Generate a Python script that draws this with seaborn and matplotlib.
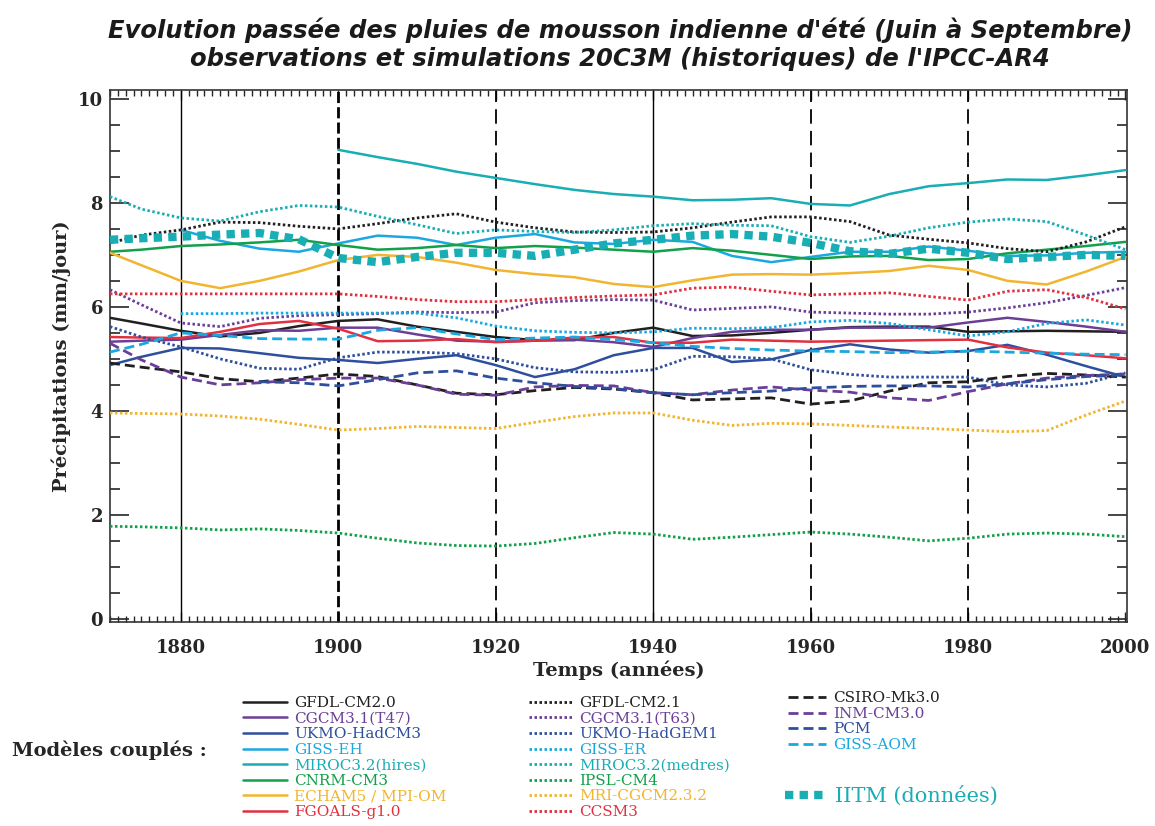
import numpy as np
import matplotlib
matplotlib.use("Agg")
import matplotlib.pyplot as plt
import seaborn as sns
from matplotlib.ticker import MultipleLocator

nan = np.nan

# common year grid for every series (mm/jour)
YEARS = [1871, 1875, 1880, 1885, 1890, 1895, 1900, 1905, 1910, 1915, 1920, 1925, 1930, 1935,
         1940, 1945, 1950, 1955, 1960, 1965, 1970, 1975, 1980, 1985, 1990, 1995, 2000]

# solid lines
gfdl_cm20 = [5.79, 5.68, 5.54, 5.43, 5.50, 5.63, 5.73, 5.76, 5.62, 5.52, 5.42, 5.36, 5.36, 5.50,
             5.60, 5.44, 5.45, 5.50, 5.56, 5.61, 5.62, 5.62, 5.52, 5.53, 5.54, 5.53, 5.52]
cgcm_t47 = [5.33, 5.35, 5.37, 5.46, 5.55, 5.54, 5.60, 5.60, 5.47, 5.35, 5.33, 5.35, 5.37, 5.32,
            5.23, 5.40, 5.52, 5.56, 5.56, 5.60, 5.60, 5.60, 5.70, 5.79, 5.71, 5.62, 5.52]
ukmo_hadcm3 = [4.88, 5.04, 5.21, 5.20, 5.11, 5.02, 4.98, 4.92, 5.00, 5.07, 4.88, 4.65, 4.80, 5.07,
               5.21, 5.21, 4.94, 4.99, 5.17, 5.28, 5.18, 5.12, 5.15, 5.27, 5.08, 4.86, 4.65]
giss_eh = [nan, nan, 7.48, 7.27, 7.12, 7.06, 7.22, 7.37, 7.33, 7.19, 7.33, 7.40, 7.24, 7.21,
           7.29, 7.25, 6.98, 6.86, 6.96, 7.06, 7.06, 7.16, 7.08, 6.98, 6.99, 7.04, 7.06]
miroc_hires = [nan, nan, nan, nan, nan, nan, 9.02, 8.88, 8.75, 8.60, 8.48, 8.36, 8.25, 8.17,
               8.12, 8.05, 8.06, 8.09, 7.98, 7.95, 8.17, 8.32, 8.38, 8.45, 8.44, 8.53, 8.63]
cnrm_cm3 = [7.06, 7.10, 7.17, 7.20, 7.24, 7.29, 7.19, 7.10, 7.13, 7.19, 7.13, 7.17, 7.14, 7.10,
            7.06, 7.13, 7.08, 7.00, 6.92, 6.97, 6.98, 6.90, 6.92, 7.03, 7.10, 7.17, 7.25]
echam5 = [7.04, 6.80, 6.50, 6.36, 6.50, 6.68, 6.90, 7.00, 6.96, 6.85, 6.71, 6.63, 6.57, 6.44,
          6.38, 6.51, 6.62, 6.63, 6.62, 6.65, 6.69, 6.79, 6.71, 6.50, 6.43, 6.68, 6.96]
fgoals = [5.42, 5.41, 5.40, 5.52, 5.67, 5.73, 5.58, 5.34, 5.35, 5.38, 5.32, 5.35, 5.41, 5.42,
          5.31, 5.31, 5.37, 5.35, 5.33, 5.34, 5.35, 5.36, 5.37, 5.22, 5.12, 5.07, 5.01]

# dotted lines
gfdl_cm21 = [7.23, 7.38, 7.48, 7.63, 7.62, 7.55, 7.50, 7.60, 7.71, 7.79, 7.63, 7.52, 7.44, 7.43,
             7.44, 7.52, 7.63, 7.73, 7.73, 7.64, 7.38, 7.30, 7.23, 7.12, 7.06, 7.25, 7.54]
cgcm_t63 = [6.33, 6.04, 5.69, 5.62, 5.78, 5.83, 5.85, 5.87, 5.90, 5.89, 5.90, 6.08, 6.12, 6.14,
            6.13, 5.94, 5.97, 6.00, 5.90, 5.88, 5.86, 5.86, 5.90, 5.98, 6.08, 6.22, 6.37]
ukmo_hadgem1 = [5.62, 5.42, 5.23, 5.00, 4.82, 4.80, 5.02, 5.13, 5.13, 5.10, 5.00, 4.83, 4.75, 4.74,
                4.79, 5.05, 5.04, 5.00, 4.79, 4.70, 4.65, 4.65, 4.65, 4.50, 4.46, 4.53, 4.73]
giss_er = [nan, nan, 5.87, 5.87, 5.88, 5.88, 5.88, 5.88, 5.88, 5.79, 5.63, 5.54, 5.51, 5.50,
           5.52, 5.59, 5.58, 5.60, 5.71, 5.74, 5.68, 5.56, 5.44, 5.52, 5.68, 5.75, 5.65]
miroc_medres = [8.12, 7.88, 7.71, 7.65, 7.83, 7.95, 7.92, 7.74, 7.58, 7.41, 7.48, 7.45, 7.43, 7.48,
                7.56, 7.60, 7.57, 7.56, 7.35, 7.24, 7.36, 7.52, 7.63, 7.69, 7.64, 7.38, 7.10]
ipsl_cm4 = [1.78, 1.77, 1.75, 1.71, 1.73, 1.70, 1.65, 1.55, 1.46, 1.41, 1.40, 1.45, 1.56, 1.66,
            1.63, 1.53, 1.57, 1.62, 1.67, 1.63, 1.57, 1.50, 1.55, 1.63, 1.65, 1.63, 1.58]
mri_cgcm = [3.96, 3.95, 3.94, 3.90, 3.84, 3.74, 3.63, 3.66, 3.70, 3.68, 3.66, 3.78, 3.89, 3.96,
            3.96, 3.82, 3.72, 3.76, 3.75, 3.72, 3.69, 3.66, 3.63, 3.60, 3.62, 3.92, 4.19]
ccsm3 = [6.25, 6.25, 6.25, 6.25, 6.25, 6.25, 6.25, 6.20, 6.14, 6.10, 6.10, 6.14, 6.18, 6.21,
         6.23, 6.36, 6.38, 6.30, 6.23, 6.25, 6.27, 6.20, 6.13, 6.30, 6.33, 6.18, 5.96]

# dashed lines
csiro = [4.92, 4.84, 4.75, 4.62, 4.56, 4.63, 4.71, 4.66, 4.50, 4.34, 4.31, 4.39, 4.45, 4.42,
         4.35, 4.21, 4.23, 4.25, 4.13, 4.19, 4.38, 4.54, 4.56, 4.66, 4.72, 4.69, 4.65]
inm_cm3 = [5.30, 4.98, 4.65, 4.50, 4.54, 4.60, 4.63, 4.63, 4.50, 4.32, 4.30, 4.46, 4.49, 4.48,
           4.35, 4.31, 4.40, 4.46, 4.40, 4.36, 4.25, 4.20, 4.37, 4.52, 4.63, 4.68, 4.71]
pcm = [nan, nan, nan, nan, 4.56, 4.54, 4.48, 4.60, 4.73, 4.77, 4.63, 4.54, 4.47, 4.43,
       4.35, 4.31, 4.35, 4.38, 4.44, 4.47, 4.48, 4.48, 4.46, 4.52, 4.60, 4.66, 4.69]
giss_aom = [5.13, 5.28, 5.50, 5.45, 5.39, 5.38, 5.38, 5.55, 5.60, 5.48, 5.37, 5.40, 5.42, 5.37,
            5.31, 5.24, 5.20, 5.17, 5.15, 5.14, 5.12, 5.13, 5.15, 5.13, 5.11, 5.09, 5.08]

# observations
iitm = [7.29, 7.32, 7.35, 7.39, 7.42, 7.30, 6.94, 6.86, 6.96, 7.04, 7.04, 6.98, 7.10, 7.22,
        7.29, 7.37, 7.40, 7.35, 7.23, 7.07, 7.02, 7.12, 7.04, 6.92, 6.96, 7.00, 6.98]

SOLID_NAMES = ["GFDL-CM2.0", "CGCM3.1(T47)", "UKMO-HadCM3", "GISS-EH",
               "MIROC3.2(hires)", "CNRM-CM3", "ECHAM5 / MPI-OM", "FGOALS-g1.0"]
DOTTED_NAMES = ["GFDL-CM2.1", "CGCM3.1(T63)", "UKMO-HadGEM1", "GISS-ER",
                "MIROC3.2(medres)", "IPSL-CM4", "MRI-CGCM2.3.2", "CCSM3"]
DASHED_NAMES = ["CSIRO-Mk3.0", "INM-CM3.0", "PCM", "GISS-AOM"]
OBS_NAME = "IITM (données)"

BLACK = "#231f20"
PURPLE = "#6b3f98"
DBLUE = "#2d4f9e"
LBLUE = "#1aa8e0"
TEAL = "#19adb4"
GREEN = "#13a04a"
YELLOW = "#f1b52f"
RED = "#e03140"

solid_data = [gfdl_cm20, cgcm_t47, ukmo_hadcm3, giss_eh, miroc_hires, cnrm_cm3, echam5, fgoals]
solid_cols = [BLACK, PURPLE, DBLUE, LBLUE, TEAL, GREEN, YELLOW, RED]
dotted_data = [gfdl_cm21, cgcm_t63, ukmo_hadgem1, giss_er, miroc_medres, ipsl_cm4, mri_cgcm, ccsm3]
dotted_cols = [BLACK, PURPLE, DBLUE, LBLUE, TEAL, GREEN, YELLOW, RED]
dashed_data = [csiro, inm_cm3, pcm, giss_aom]
dashed_cols = [BLACK, PURPLE, DBLUE, LBLUE]

REF_SOLID = [1880, 1940]
REF_DASHED = [1900, 1920, 1960, 1980]

sns.set_style("ticks")
plt.rcParams["font.family"] = ["DejaVu Serif", "DejaVu Sans"]

fig = plt.figure(figsize=(11.55, 8.26), dpi=100)
ax = fig.add_axes([0.0952, 0.247, 0.8806, 0.644])

# reference lines (decades)
for yr in REF_SOLID:
    ax.axvline(yr, color="black", lw=1.0, zorder=1)
ax.axvline(REF_DASHED[0], color="black", lw=2.0, dashes=(4, 1.5), zorder=1)
for yr in REF_DASHED[1:]:
    ax.axvline(yr, color="black", lw=1.3, dashes=(8, 4), zorder=1)


def draw(vals, col, name, ls, lw):
    sns.lineplot(x=YEARS, y=vals, color=col, lw=lw, ax=ax, label=name, legend=False, zorder=3)
    line = ax.lines[-1]
    if ls is not None:
        line.set_dashes(ls)
    return line


solid_h = [draw(v, c, n, None, 1.8) for v, c, n in zip(solid_data, solid_cols, SOLID_NAMES)]
dotted_h = [draw(v, c, n, (0.9, 0.9), 2.0) for v, c, n in zip(dotted_data, dotted_cols, DOTTED_NAMES)]
dashed_h = [draw(v, c, n, (3.6, 1.8), 2.0) for v, c, n in zip(dashed_data, dashed_cols, DASHED_NAMES)]
obs_h = draw(iitm, TEAL, OBS_NAME, (1.0, 0.75), 6.0)
obs_h.set_dash_capstyle("butt")

ax.set_xlim(1871, 2000.2)
ax.set_ylim(-0.06, 10.17)
ax.xaxis.set_major_locator(MultipleLocator(20))
ax.xaxis.set_minor_locator(MultipleLocator(1))
ax.yaxis.set_major_locator(MultipleLocator(2))
ax.yaxis.set_minor_locator(MultipleLocator(0.5))
ax.tick_params(axis="x", which="both", direction="in", top=True, bottom=True, width=1.0)
ax.tick_params(axis="x", which="major", length=7, pad=12)
ax.tick_params(axis="x", which="minor", length=4)
ax.tick_params(axis="y", which="both", direction="in", left=True, right=True, width=1.2)
ax.tick_params(axis="y", which="major", length=14, pad=5)
ax.tick_params(axis="y", which="minor", length=7)
for lab in ax.get_xticklabels() + ax.get_yticklabels():
    lab.set_fontweight("bold")
    lab.set_fontsize(13)
for sp in ax.spines.values():
    sp.set_linewidth(1.2)
    sp.set_color("#333333")

ax.set_xlabel("Temps (années)", fontsize=14, fontweight="bold", labelpad=3)
ax.set_ylabel("Précipitations (mm/jour)", fontsize=14, fontweight="bold", labelpad=5)

fig.text(0.537, 0.963, "Evolution passée des pluies de mousson indienne d'été (Juin à Septembre)",
         ha="center", va="center", fontsize=17.5, fontweight="bold", style="italic",
         family=["DejaVu Sans"], color="#1a1a1a")
fig.text(0.537, 0.929, "observations et simulations 20C3M (historiques) de l'IPCC-AR4",
         ha="center", va="center", fontsize=17.5, fontweight="bold", style="italic",
         family=["DejaVu Sans"], color="#1a1a1a")

leg_kw = dict(loc="upper left", frameon=False, borderpad=0, borderaxespad=0,
              handletextpad=0.5, labelspacing=0.1, labelcolor="linecolor",
              bbox_transform=fig.transFigure)
fig.legend(handles=solid_h, labels=SOLID_NAMES, bbox_to_anchor=(0.210, 0.157),
           fontsize=11, handlelength=2.9, **leg_kw)
fig.legend(handles=dotted_h, labels=DOTTED_NAMES, bbox_to_anchor=(0.458, 0.157),
           fontsize=11, handlelength=2.8, **leg_kw)
fig.legend(handles=dashed_h, labels=DASHED_NAMES, bbox_to_anchor=(0.682, 0.163),
           fontsize=11, handlelength=2.5, **leg_kw)
fig.legend(handles=[obs_h], labels=[OBS_NAME], bbox_to_anchor=(0.680, 0.024),
           fontsize=15, handlelength=1.9, loc="lower left", frameon=False, borderpad=0,
           borderaxespad=0, handletextpad=0.5, labelcolor="linecolor",
           bbox_transform=fig.transFigure)

fig.text(0.01, 0.092, "Modèles couplés :", ha="left", va="center", fontsize=14, fontweight="bold")

fig.savefig("out.png", dpi=100)
